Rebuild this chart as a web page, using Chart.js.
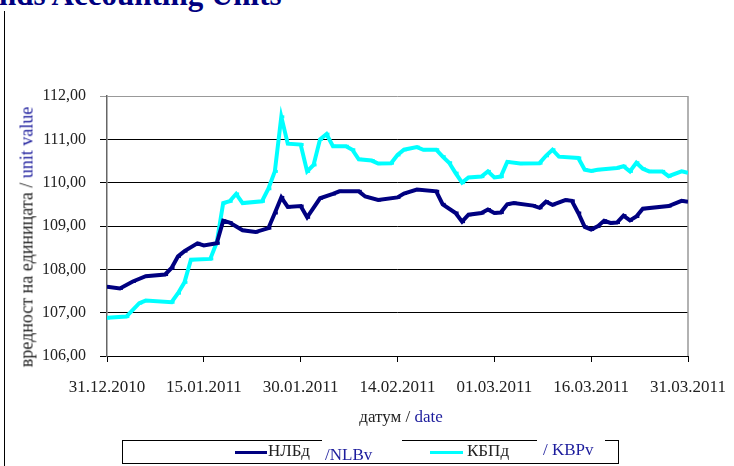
<!DOCTYPE html>
<html>
<head>
<meta charset="utf-8">
<script src="https://cdn.jsdelivr.net/npm/chart.js@4.4.1/dist/chart.umd.min.js"></script>
<style>
    body { margin: 0; background: #fff; }
    #wrap { position: relative; width: 734px; height: 466px; overflow: hidden; font-family: "Liberation Serif", "DejaVu Serif", serif; }
    #chart { position: absolute; left: 0; top: 0; }
    #title { position: absolute; left: 0; top: -21px; font-size: 31px; font-weight: bold; color: #000080; white-space: nowrap; line-height: 31px; }
    #frame { position: absolute; left: 4px; top: 11px; width: 1px; height: 460px; background: #000; }
    #ytitle { position: absolute; left: 27px; top: 237px; transform: translate(-50%, -50%) rotate(-90deg); font-size: 18px; white-space: nowrap; color: #222; }
    #xtitle { position: absolute; left: 401px; top: 417px; transform: translate(-50%, -50%); font-size: 17px; white-space: nowrap; color: #222; }
    .blue { color: #1c1c9c; }
    .ln { position: absolute; background: #000; }
    .txt { position: absolute; font-size: 17px; white-space: nowrap; transform: translateY(-50%); }
</style>
</head>
<body>
<div id="wrap">
    <div id="title"><span id="cut">Fu</span>nds Accounting Units</div>
    <div id="frame"></div>
    <canvas id="chart" width="734" height="466"></canvas>
    <div id="ytitle">вредност на единицата / <span class="blue">unit value</span></div>
    <div id="xtitle">датум / <span class="blue">date</span></div>

    <!-- legend box -->
    <div class="ln" style="left:122px; top:440px; width:200px; height:1px"></div>
    <div class="ln" style="left:402px; top:440px; width:135px; height:1px"></div>
    <div class="ln" style="left:605px; top:440px; width:14px; height:1px"></div>
    <div class="ln" style="left:122px; top:463px; width:497px; height:1px"></div>
    <div class="ln" style="left:122px; top:440px; width:1px; height:24px"></div>
    <div class="ln" style="left:618px; top:440px; width:1px; height:24px"></div>

    <div class="ln" style="left:235px; top:451px; width:32px; height:3px; background:#000080"></div>
    <div class="txt" style="left:268px; top:451px; color:#222">НЛБд</div>
    <div class="txt blue" style="left:325px; top:455px">/NLBv</div>
    <div class="ln" style="left:430px; top:451px; width:33px; height:3px; background:#00ffff"></div>
    <div class="txt" style="left:467px; top:451px; color:#222">КБПд</div>
    <div class="txt blue" style="left:543px; top:450px">/ KBPv</div>
</div>

<script>
// days counted from 31.12.2010
const nlbDays = [0, 2, 4, 6, 9, 10, 11, 12, 14, 15, 17, 18, 19, 21, 23, 25, 26, 27, 28, 30, 31, 33, 35, 36, 39, 40, 42, 45, 46, 48, 51, 52, 54, 55, 56, 58, 59, 60, 61, 62, 63, 66, 67, 68, 69, 71, 72, 73, 74, 75, 76, 77, 78, 79, 80, 81, 82, 83, 87, 89, 90];
const nlbValues = [107.60, 107.56, 107.72, 107.84, 107.88, 108.03, 108.30, 108.42, 108.60, 108.55, 108.60, 109.12, 109.08, 108.90, 108.86, 108.95, 109.30, 109.66, 109.44, 109.46, 109.20, 109.64, 109.74, 109.80, 109.80, 109.68, 109.60, 109.66, 109.75, 109.84, 109.80, 109.50, 109.30, 109.10, 109.26, 109.30, 109.38, 109.30, 109.31, 109.50, 109.53, 109.47, 109.42, 109.56, 109.49, 109.60, 109.58, 109.30, 108.98, 108.92, 108.99, 109.12, 109.07, 109.08, 109.24, 109.13, 109.22, 109.40, 109.46, 109.58, 109.56];

const kbpDays = [0, 3, 5, 6, 10, 11, 12, 13, 16, 17, 18, 19, 20, 21, 24, 25, 26, 27, 28, 30, 31, 32, 33, 34, 35, 37, 38, 39, 41, 42, 44, 45, 46, 48, 49, 51, 52, 53, 54, 55, 56, 58, 59, 60, 61, 62, 64, 67, 68, 69, 70, 73, 74, 75, 76, 79, 80, 81, 82, 83, 84, 86, 87, 89, 90];
const kbpValues = [106.88, 106.91, 107.22, 107.28, 107.24, 107.45, 107.70, 108.22, 108.24, 108.62, 109.53, 109.57, 109.74, 109.53, 109.57, 109.86, 110.26, 111.52, 110.90, 110.88, 110.26, 110.41, 111.00, 111.12, 110.84, 110.84, 110.76, 110.54, 110.51, 110.44, 110.45, 110.64, 110.76, 110.82, 110.76, 110.76, 110.60, 110.46, 110.22, 110.00, 110.12, 110.14, 110.26, 110.12, 110.14, 110.48, 110.44, 110.45, 110.62, 110.76, 110.60, 110.57, 110.30, 110.27, 110.30, 110.34, 110.38, 110.26, 110.46, 110.32, 110.26, 110.26, 110.15, 110.26, 110.23];

const xTickLabels = ['31.12.2010', '15.01.2011', '30.01.2011', '14.02.2011', '01.03.2011', '16.03.2011', '31.03.2011'];
const seriesNames = ['НЛБд / NLBv', 'КБПд / KBPv'];

// shift title so the "Fu" falls off the left edge, like the cropped original
const cut = document.getElementById('cut');
cut.style.marginLeft = (-cut.getBoundingClientRect().width - 1) + 'px';

const toPoints = (days, vals) => days.map((d, i) => ({ x: d, y: vals[i] }));

// gray plot border on the right side
const plotBorder = {
    id: 'plotBorder',
    beforeDatasetsDraw(chart) {
        const a = chart.chartArea;
        const c = chart.ctx;
        c.save();
        c.strokeStyle = '#999';
        c.lineWidth = 1.5;
        c.beginPath();
        c.moveTo(a.right, a.top);
        c.lineTo(a.right, a.bottom);
        c.stroke();
        c.restore();
    }
};

new Chart(document.getElementById('chart'), {
    type: 'line',
    data: {
        datasets: [{
            label: seriesNames[0],
            data: toPoints(nlbDays, nlbValues),
            borderColor: '#000080',
            backgroundColor: '#000080',
            borderWidth: 4,
            pointStyle: 'dash',
            pointRadius: 3,
            pointBorderWidth: 3,
            tension: 0
        }, {
            label: seriesNames[1],
            data: toPoints(kbpDays, kbpValues),
            borderColor: '#00ffff',
            backgroundColor: '#00ffff',
            borderWidth: 4,
            pointStyle: 'dash',
            pointRadius: 3,
            pointBorderWidth: 3,
            tension: 0
        }]
    },
    options: {
        responsive: false,
        devicePixelRatio: 1,
        animation: false,
        layout: { padding: { left: 0, top: 96, right: 46, bottom: 60 } },
        plugins: {
            legend: { display: false },
            tooltip: { enabled: false }
        },
        scales: {
            x: {
                type: 'linear',
                min: 0,
                max: 90,
                afterFit: (s) => { s.height = 50; s.paddingLeft = 0; s.paddingRight = 0; },
                afterBuildTicks: (s) => { s.ticks = xTickLabels.map((_, i) => ({ value: i * 15 })); },
                ticks: {
                    callback: (v) => xTickLabels[Math.round(v / 15)],
                    font: { family: 'Liberation Serif', size: 17 },
                    color: '#222',
                    padding: 15,
                    maxRotation: 0,
                    autoSkip: false
                },
                grid: { drawOnChartArea: false, drawTicks: true, tickLength: 6, color: '#000' },
                border: { color: '#000', width: 1 }
            },
            y: {
                min: 106,
                max: 112,
                afterFit: (s) => { s.width = 107; s.paddingTop = 0; s.paddingBottom = 0; },
                ticks: {
                    stepSize: 1,
                    callback: (v) => v.toFixed(2).replace('.', ','),
                    font: { family: 'Liberation Serif', size: 16 },
                    color: '#222',
                    padding: 14
                },
                grid: {
                    color: (ctx) => (ctx.tick && ctx.tick.value === 112 ? '#999' : '#000'),
                    lineWidth: 1,
                    tickLength: 7
                },
                border: { color: '#666', width: 1.5 }
            }
        }
    },
    plugins: [plotBorder]
});
</script>
</body>
</html>
